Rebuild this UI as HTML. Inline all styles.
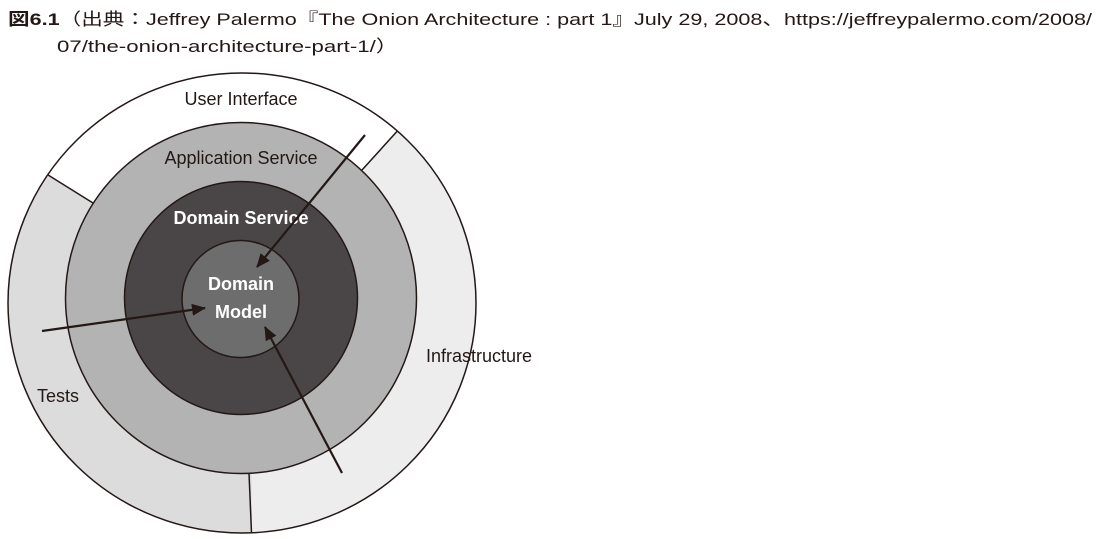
<!DOCTYPE html>
<html><head><meta charset="utf-8"><style>
html,body{margin:0;padding:0;background:#fff;width:1100px;height:539px;overflow:hidden}
svg{display:block}
text{font-family:"Liberation Sans","Noto Sans CJK JP",sans-serif}
</style></head><body>
<svg width="1100" height="539" viewBox="0 0 1100 539" xmlns="http://www.w3.org/2000/svg">
<defs>
<marker id="ah" markerWidth="14" markerHeight="12" refX="13" refY="6" orient="auto" markerUnits="userSpaceOnUse" viewBox="0 0 14 12">
<path d="M0,0 L14,6 L0,12 z" fill="#231815"/>
</marker>
<clipPath id="outer"><ellipse cx="242" cy="303" rx="234" ry="230"/></clipPath>
</defs>
<text x="8" y="25" font-size="17" fill="#231815" textLength="1084" lengthAdjust="spacingAndGlyphs"><tspan font-weight="bold">図6.1</tspan>（出典：Jeffrey Palermo『The Onion Architecture : part 1』July 29, 2008、https://jeffreypalermo.com/2008/</text>
<text x="57" y="52" font-size="17" fill="#231815" textLength="341" lengthAdjust="spacingAndGlyphs">07/the-onion-architecture-part-1/）</text>

<g clip-path="url(#outer)">
<rect x="0" y="60" width="500" height="480" fill="#dcdcdc"/>
<polygon points="242,300 440,84 520,84 520,545 252,545 250,300" fill="#ededed"/>
<polygon points="242,300 93,203 0,145 0,60 520,60 440,84" fill="#fff"/>
<line x1="0" y1="145" x2="93" y2="203" stroke="#231815" stroke-width="1.5"/>
<line x1="440" y1="84" x2="362" y2="170" stroke="#231815" stroke-width="1.5"/>
<line x1="249" y1="473" x2="252" y2="545" stroke="#231815" stroke-width="1.5"/>
</g>
<ellipse cx="242" cy="303" rx="234" ry="230" fill="none" stroke="#231815" stroke-width="1.5"/>

<circle cx="241" cy="298" r="175.5" fill="#b3b3b3" stroke="#231815" stroke-width="1.5"/>
<circle cx="241" cy="298" r="116.5" fill="#4a4546" stroke="#231815" stroke-width="1.5"/>
<circle cx="240.5" cy="299" r="58.5" fill="#6d6d6d" stroke="#231815" stroke-width="1.5"/>

<text x="241" y="105" font-size="18" text-anchor="middle" fill="#231815">User Interface</text>
<text x="241" y="164" font-size="18" text-anchor="middle" fill="#231815">Application Service</text>
<text x="241" y="224" font-size="18" text-anchor="middle" fill="#fff" font-weight="bold">Domain Service</text>
<text x="241" y="290" font-size="18" text-anchor="middle" fill="#fff" font-weight="bold">Domain</text>
<text x="241" y="318" font-size="18" text-anchor="middle" fill="#fff" font-weight="bold">Model</text>
<text x="479" y="362" font-size="18" text-anchor="middle" fill="#231815">Infrastructure</text>
<text x="58" y="402" font-size="18" text-anchor="middle" fill="#231815">Tests</text>

<line x1="365" y1="135" x2="257" y2="267" stroke="#231815" stroke-width="2.2" marker-end="url(#ah)"/>
<line x1="42" y1="331" x2="205" y2="308" stroke="#231815" stroke-width="2.2" marker-end="url(#ah)"/>
<line x1="342" y1="473" x2="265" y2="327" stroke="#231815" stroke-width="2.2" marker-end="url(#ah)"/>
</svg>
</body></html>
